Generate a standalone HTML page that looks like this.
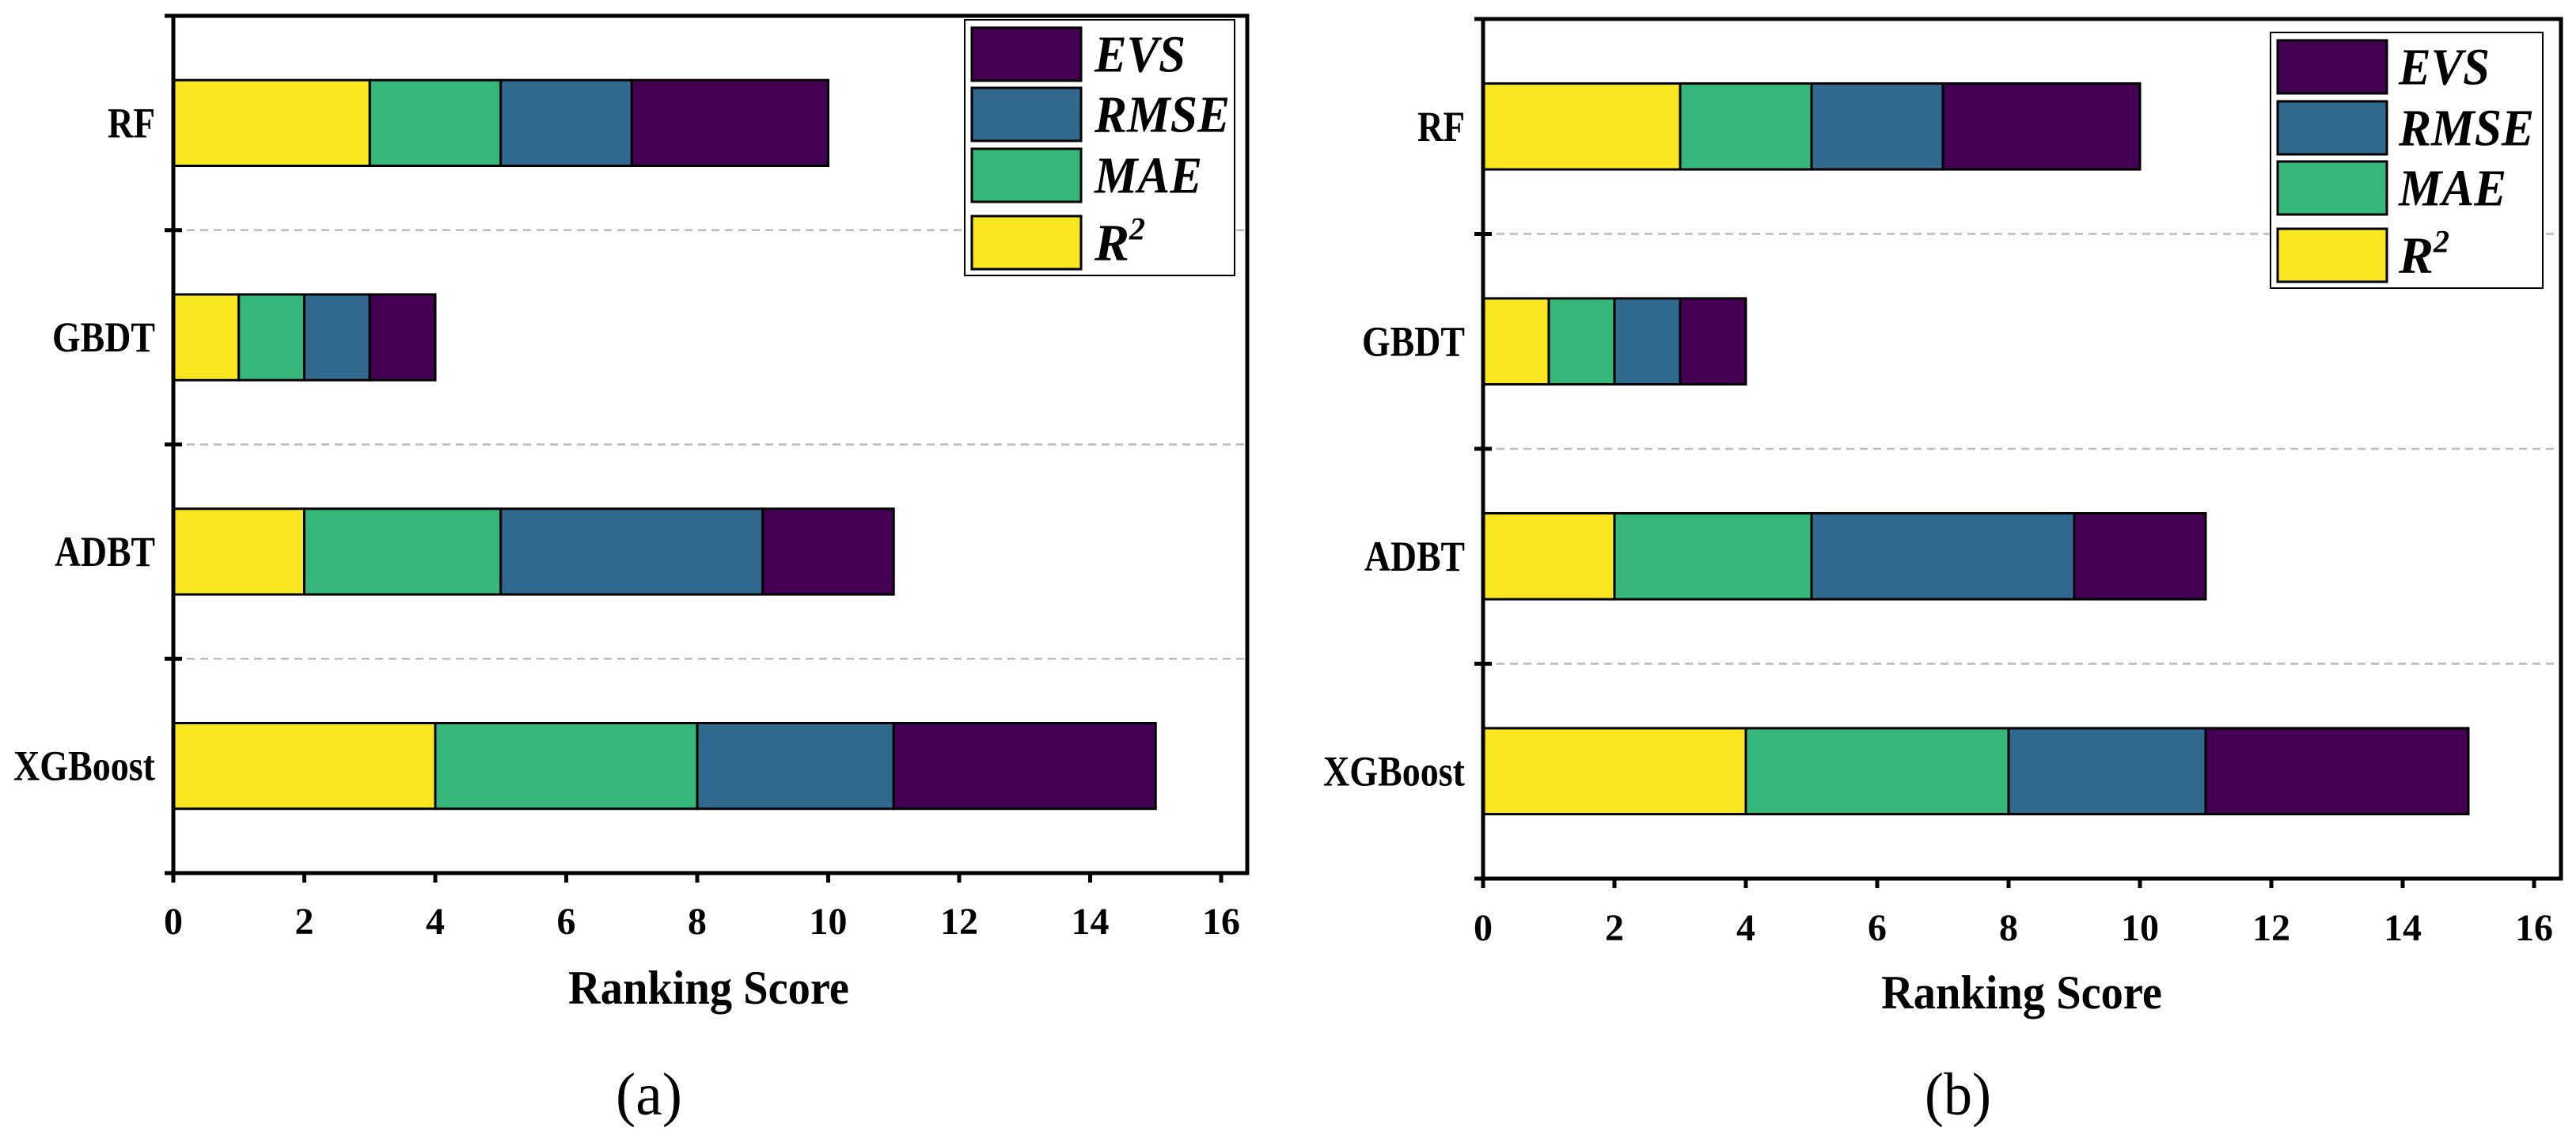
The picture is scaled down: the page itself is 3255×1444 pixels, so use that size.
<!DOCTYPE html>
<html><head><meta charset="utf-8"><style>
html,body{margin:0;padding:0;background:#fff;}
svg{display:block;}
text{font-family:"Liberation Serif","DejaVu Serif",serif;}
</style></head><body>
<svg id="fig" width="3255" height="1444" viewBox="0 0 3255 1444" xmlns="http://www.w3.org/2000/svg"></svg>
<script>
const categories = ["RF","GBDT","ADBT","XGBoost"];
const seriesNames = ["R2","MAE","RMSE","EVS"];
const r2Values = [3,1,2,4];
const maeValues = [2,1,3,4];
const rmseValues = [2,1,4,3];
const evsValues = [3,1,2,4];
const xTicks = [0,2,4,6,8,10,12,14,16];
const colors = ["#f8e621","#35b779","#31688e","#440154"];
const allSeries = [r2Values, maeValues, rmseValues, evsValues];
const NS = "http://www.w3.org/2000/svg";
const FF = "'Liberation Serif', 'DejaVu Serif', serif";
const svg = document.getElementById("fig");
const labelWidths = {"RF":60,"GBDT":130,"ADBT":127,"XGBoost":179};
const legendWidths = {"EVS":115,"RMSE":171,"MAE":136};
function mk(tag, attrs, parent, text){
  const e = document.createElementNS(NS, tag);
  for (const k in attrs) e.setAttribute(k, attrs[k]);
  if (tag === "text") e.setAttribute("font-family", FF);
  if (text !== undefined) e.textContent = text;
  (parent||svg).appendChild(e);
  return e;
}
const panels = [
  {id:"a", L:219, R:1576, T:20, B:1103, x16:1543, lblR:196, lx:1219, ly:25, lw:341, lh:323, sx:1228, sw:138, rows:[35,111,188,273], rh:67, tx:1383, capX:820, rsX:896, tickY:1180, rsY:1268},
  {id:"b", L:1874, R:3236, T:24, B:1110, x16:3202, lblR:1851, lx:2869, ly:41, lw:344, lh:323, sx:2878, sw:138, rows:[51,128,204,289], rh:67, tx:3031, capX:2474, rsX:2555, tickY:1188, rsY:1274}
];
panels.forEach(p=>{
  const g = mk("g",{});
  
  
  const xs = v => p.L + v*(p.x16-p.L)/16;
  const band = (p.B-p.T)/categories.length;
  const yc = i => p.T + band*(i+0.5);
  for (let i=1;i<categories.length;i++){
    const y = p.T+band*i;
    const gl = mk("line",{x1:p.L,x2:p.R,y1:y,y2:y,stroke:"#bbb","stroke-width":2.5,"stroke-dasharray":"10,7"},g);
    
    
  }
  categories.forEach((c,i)=>{
    let acc = 0;
    const bh = band*0.4;
    allSeries.forEach((s,k)=>{
      const r = mk("rect",{x:xs(acc),y:yc(i)-bh/2,width:xs(acc+s[i])-xs(acc),height:bh,fill:colors[k],stroke:"#000","stroke-width":3},g);
      
      
      acc += s[i];
    });
    const t = mk("text",{x:p.lblR-labelWidths[c],y:yc(i)+18,"font-size":54,"font-weight":"bold",textLength:labelWidths[c],lengthAdjust:"spacingAndGlyphs"},g,c);
    
    
  });
  const fr = mk("rect",{x:p.L,y:p.T,width:p.R-p.L,height:p.B-p.T,fill:"none",stroke:"#000","stroke-width":5},g);
  
  
  for (let i=0;i<=categories.length;i++){
    const y = p.T+band*i;
    const tk = mk("line",{x1:p.L-11,x2:p.L+11,y1:y,y2:y,stroke:"#000","stroke-width":5},g);
    
    
  }
  xTicks.forEach(v=>{
    const tk = mk("line",{x1:xs(v),x2:xs(v),y1:p.B,y2:p.B+12,stroke:"#000","stroke-width":5},g);
    
    
    const tl = mk("text",{x:xs(v),y:p.tickY,"text-anchor":"middle","font-size":48,"font-weight":"bold"},g,String(v));
    
    
  });
  const xt = mk("text",{x:p.rsX-178,y:p.rsY,"font-size":60,"font-weight":"bold",textLength:355,lengthAdjust:"spacingAndGlyphs"},g,"Ranking Score");
  
  
  const cap = mk("text",{x:p.capX-42,y:1408,"font-size":76,textLength:84,lengthAdjust:"spacingAndGlyphs"},g,"("+p.id+")");
  
  
  const lg = mk("g",{},g);
  
  
  mk("rect",{x:p.lx,y:p.ly,width:p.lw,height:p.lh,fill:"#fff",stroke:"#000","stroke-width":2},lg);
  const order = [3,2,1,0];
  const labels = ["R","MAE","RMSE","EVS"];
  order.forEach((k,j)=>{
    const sw = mk("rect",{x:p.sx,y:p.rows[j],width:p.sw,height:p.rh,fill:colors[k],stroke:"#000","stroke-width":3},lg);
    
    
    const attrs = {x:p.tx,y:p.rows[j]+p.rh/2+22,"font-size":66,"font-weight":"bold","font-style":"italic"};
    if (legendWidths[labels[k]]) { attrs.textLength = legendWidths[labels[k]]; attrs.lengthAdjust = "spacingAndGlyphs"; }
    const t = mk("text",attrs,lg,labels[k]);
    
    
    if (k===0){
      mk("tspan",{"font-size":40,dy:-26},t,"2");
    }
  });
});
</script>
</body></html>
